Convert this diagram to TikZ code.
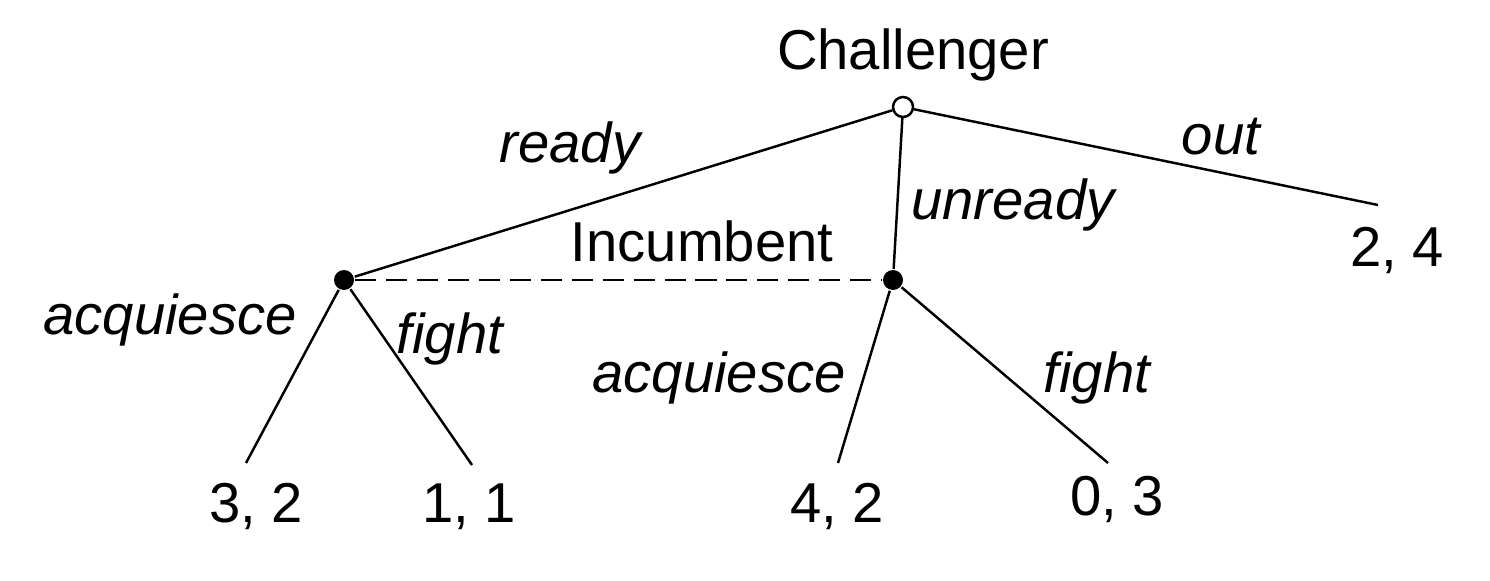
\documentclass[tikz,border=0pt]{standalone}
\usepackage{fontspec}
\setmainfont{Liberation Sans}
\usepackage{tikz}

\begin{document}
\begin{tikzpicture}[x=1cm,y=1cm,line width=.7pt,font=\fontsize{16}{19}\selectfont,
  opennode/.style={circle,draw,fill=white,inner sep=0pt,minimum size=.2cm},
  solidnode/.style={circle,fill=black,inner sep=0pt,minimum size=.2cm},
  act/.style={anchor=base,inner sep=0pt,font=\fontsize{16}{19}\selectfont\itshape},
  pay/.style={anchor=base,inner sep=0pt}]
\useasboundingbox (0,0) rectangle (14.9,5.8);
\node[opennode] (root) at (9.03,4.73) {};
\node[solidnode] (inc1) at (3.44,3.00) {};
\node[solidnode] (inc2) at (8.93,3.00) {};
\coordinate (outend) at (13.78,3.75);
\coordinate (ll) at (2.46,1.17);
\coordinate (lr) at (4.72,1.15);
\coordinate (ml) at (8.38,1.17);
\coordinate (mr) at (11.08,1.17);
\draw (root)--(inc1) (root)--(inc2) (root)--(outend);
\draw (inc1)--(ll) (inc1)--(lr) (inc2)--(ml) (inc2)--(mr);
\draw[dash pattern=on 6pt off 2.8pt] (inc1)--(inc2);
\node[pay] (chal) at (9.13,5.10) {Challenger};
\node[pay] (incl) at (7.02,3.18) {Incumbent};
\node[act] at (5.70,4.17) {ready};
\node[act] at (12.21,4.25) {out};
\node[act] at (10.13,3.60) {unready};
\node[act] at (1.70,2.45) {acquiesce};
\node[act] at (4.50,2.27) {fight};
\node[act] at (7.19,1.88) {acquiesce};
\node[act] at (10.97,1.88) {fight};
\node[pay] (p0) at (13.97,3.13) {2, 4};
\node[pay] (p1) at (2.56,0.58) {3, 2};
\node[pay] (p2) at (4.69,0.58) {1, 1};
\node[pay] (p3) at (8.37,0.58) {4, 2};
\node[pay] (p4) at (11.17,0.65) {0, 3};
\end{tikzpicture}
\end{document}
